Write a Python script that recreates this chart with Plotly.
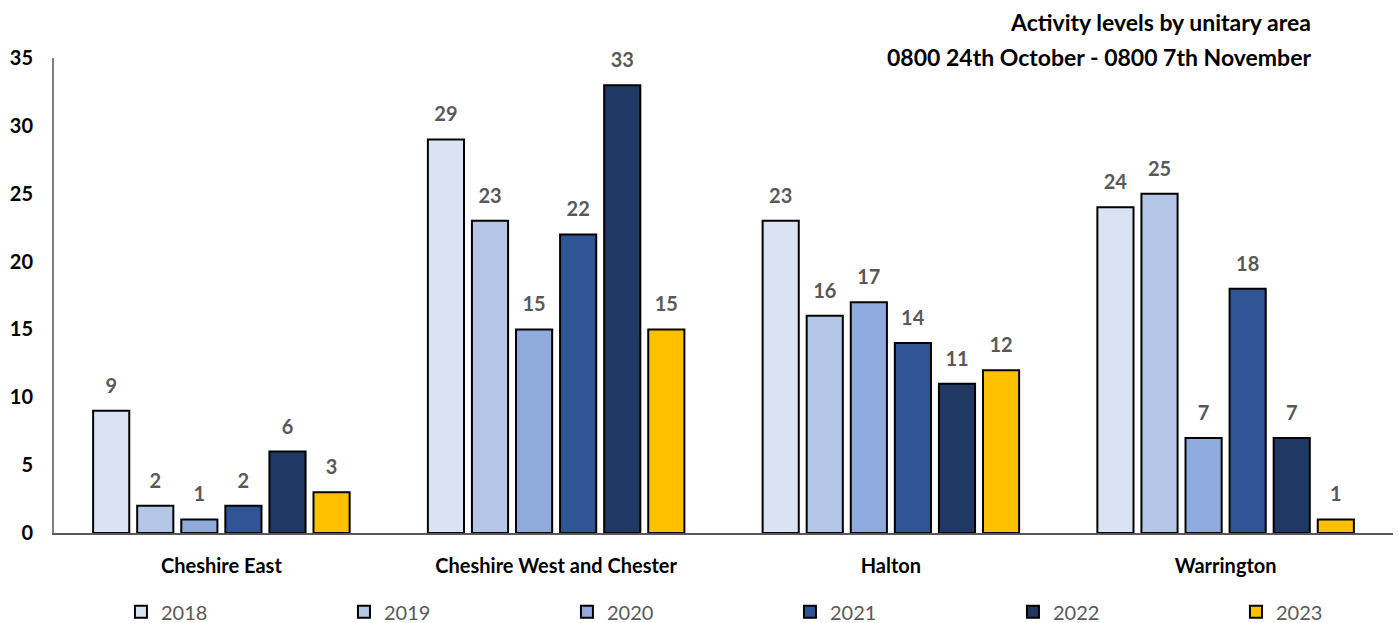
import plotly.graph_objects as go

areas = ["Cheshire East", "Cheshire West and Chester", "Halton", "Warrington"]
years = ["2018", "2019", "2020", "2021", "2022", "2023"]
v2018 = [9, 29, 23, 24]
v2019 = [2, 23, 16, 25]
v2020 = [1, 15, 17, 7]
v2021 = [2, 22, 14, 18]
v2022 = [6, 33, 11, 7]
v2023 = [3, 15, 12, 1]
series = [v2018, v2019, v2020, v2021, v2022, v2023]
colors = ["#DAE3F3", "#B4C7E7", "#8FAADC", "#2F5597", "#203864", "#FFC000"]
title_lines = ["Activity levels by unitary area", "0800 24th October - 0800 7th November"]

FONT = "Lato"
fig = go.Figure()
for yr, vals, col in zip(years, series, colors):
    fig.add_trace(go.Bar(
        name=yr, x=areas, y=vals,
        marker=dict(color=col, line=dict(color="black", width=2)),
        text=vals,
        texttemplate="<span style='font-size:20px'><b>%{y}</b></span><br> ",
        textposition="outside",
        textfont=dict(family=FONT, size=10, color="#595959"),
        constraintext="none",
        cliponaxis=False,
    ))

fig.update_layout(
    barmode="group", bargap=0.21, bargroupgap=0.18,
    width=1398, height=623,
    margin=dict(l=54, r=5, t=58, b=90, autoexpand=False),
    plot_bgcolor="white", paper_bgcolor="white",
    font=dict(family=FONT, color="black"),
    showlegend=True,
    legend=dict(orientation="h", x=0.050, xref="paper", y=-0.166, yanchor="middle",
                entrywidth=178, entrywidthmode="pixels",
                font=dict(family=FONT, size=20, color="#595959"),
                itemsizing="constant"),
    yaxis=dict(range=[0, 35], dtick=5, showgrid=False, showline=True,
               linecolor="#7F7F7F", linewidth=2, ticks="",
               tickfont=dict(family=FONT, size=20, color="black", weight="bold"),
               ticklabelstandoff=15, zeroline=False),
    xaxis=dict(showline=True, linecolor="#595959", linewidth=1.5, ticks="",
               tickfont=dict(family=FONT, size=20, color="black", weight="bold"),
               ticklabelstandoff=14),
)
for line, ypix in zip(title_lines, [22, 57]):
    fig.add_annotation(
        text="<b>" + line + "</b>",
        xref="paper", yref="paper", x=0.94, y=(623 - 90 - ypix) / 475,
        xanchor="right", yanchor="middle", align="right", showarrow=False,
        font=dict(family=FONT, size=23, color="black"),
    )
fig.write_html("out.html")
